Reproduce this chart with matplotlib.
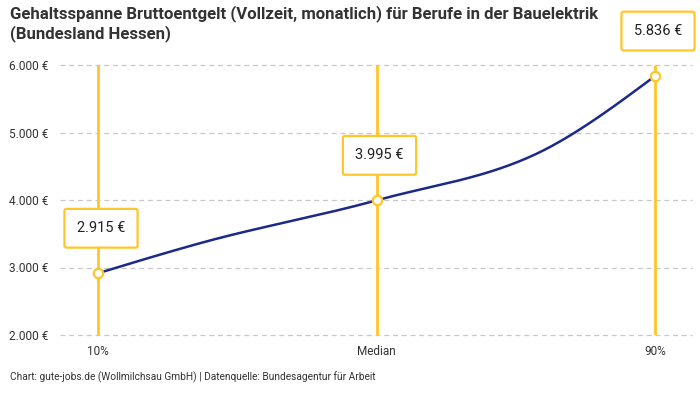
import numpy as np
import matplotlib
matplotlib.use("Agg")
import matplotlib.pyplot as plt

# data: percentiles along the x axis, monthly gross salary in EUR
percentiles = [10, 25, 50, 75, 90]
salaries = [2915, 3370, 3995, 4790, 5836]   # 25/75 are unmarked points of the line
marked = [10, 50, 90]
marked_labels = ["10%", "Median", "90%"]
y_ticks = [2000, 3000, 4000, 5000, 6000]

title = ("Gehaltsspanne Bruttoentgelt (Vollzeit, monatlich) für Berufe in der Bauelektrik\n"
         "(Bundesland Hessen)")
source = "Chart: gute-jobs.de (Wollmilchsau GmbH) | Datenquelle: Bundesagentur für Arbeit"

YELLOW = "#FFC629"
BLUE = "#1B2A8A"
GRID = "#C8C8C8"

plt.rcParams["font.family"] = ["Roboto", "DejaVu Sans"]


def fmt_eur(v):
    return f"{v:,.0f}".replace(",", ".") + " €"


def monotone_curve(xs, ys, n=60):
    # monotone cubic (like d3 curveMonotoneX), only used to draw the line shape
    xs = np.asarray(xs, float)
    ys = np.asarray(ys, float)
    h = np.diff(xs)
    s = np.diff(ys) / h
    t = np.zeros(len(xs))
    for i in range(1, len(xs) - 1):
        p = (s[i - 1] * h[i] + s[i] * h[i - 1]) / (h[i - 1] + h[i])
        t[i] = (np.sign(s[i - 1]) + np.sign(s[i])) * min(abs(s[i - 1]), abs(s[i]), 0.5 * abs(p))
    t[0] = (3 * s[0] - t[1]) / 2
    t[-1] = (3 * s[-1] - t[-2]) / 2
    px, py = [], []
    for i in range(len(xs) - 1):
        u = np.linspace(0, 1, n)
        h00 = 2 * u**3 - 3 * u**2 + 1
        h10 = u**3 - 2 * u**2 + u
        h01 = -2 * u**3 + 3 * u**2
        h11 = u**3 - u**2
        px.append(xs[i] + u * h[i])
        py.append(h00 * ys[i] + h10 * h[i] * t[i] + h01 * ys[i + 1] + h11 * h[i] * t[i + 1])
    return np.concatenate(px), np.concatenate(py)


fig = plt.figure(figsize=(7, 4), dpi=100)
ax = fig.add_axes([60 / 700, 65 / 400, 632 / 700, 270 / 400])

px_per_pct = (655 - 98) / 80
ax.set_xlim(10 - 38 / px_per_pct, 90 + 37 / px_per_pct)
ax.set_ylim(y_ticks[0], y_ticks[-1])

for yt in y_ticks:
    ax.axhline(yt, color=GRID, lw=0.9, ls=(0, (4, 3)), zorder=1, clip_on=False)

for xm in marked:
    ax.plot([xm, xm], [y_ticks[0], y_ticks[-1]], color=YELLOW, lw=2, zorder=2,
            solid_capstyle="butt")

cx, cy = monotone_curve(percentiles, salaries)
ax.plot(cx, cy, color=BLUE, lw=1.8, zorder=3)

marked_vals = [salaries[percentiles.index(m)] for m in marked]
ax.scatter(marked, marked_vals, s=45, facecolor="white", edgecolor=YELLOW,
           linewidth=1.6, zorder=4, clip_on=False)

for xm, v in zip(marked, marked_vals):
    ax.annotate(fmt_eur(v), (xm, v), xytext=(3, 45), textcoords="offset pixels",
                ha="center", va="center", fontsize=10.5, color="#222222", zorder=5,
                bbox=dict(boxstyle="round,pad=0.85,rounding_size=0.15", fc="white",
                          ec=YELLOW, lw=1.6), annotation_clip=False)

ax.set_yticks(y_ticks)
ax.set_yticklabels([fmt_eur(v) for v in y_ticks], fontsize=8.6, color="#333333")
ax.set_xticks(marked)
ax.set_xticklabels(marked_labels, fontsize=8.5, color="#333333")
ax.tick_params(axis="y", length=0, pad=8.6)
ax.tick_params(axis="x", length=0, pad=7)
for sp in ax.spines.values():
    sp.set_visible(False)

fig.text(10 / 700, 1 - 5 / 400, title, ha="left", va="top", fontsize=12.1,
         fontweight="bold", color="#333333", linespacing=1.25)
fig.text(10 / 700, 1 - 377 / 400, source, ha="left", va="center", fontsize=7.3,
         color="#333333")

fig.savefig("out.png", dpi=100)
